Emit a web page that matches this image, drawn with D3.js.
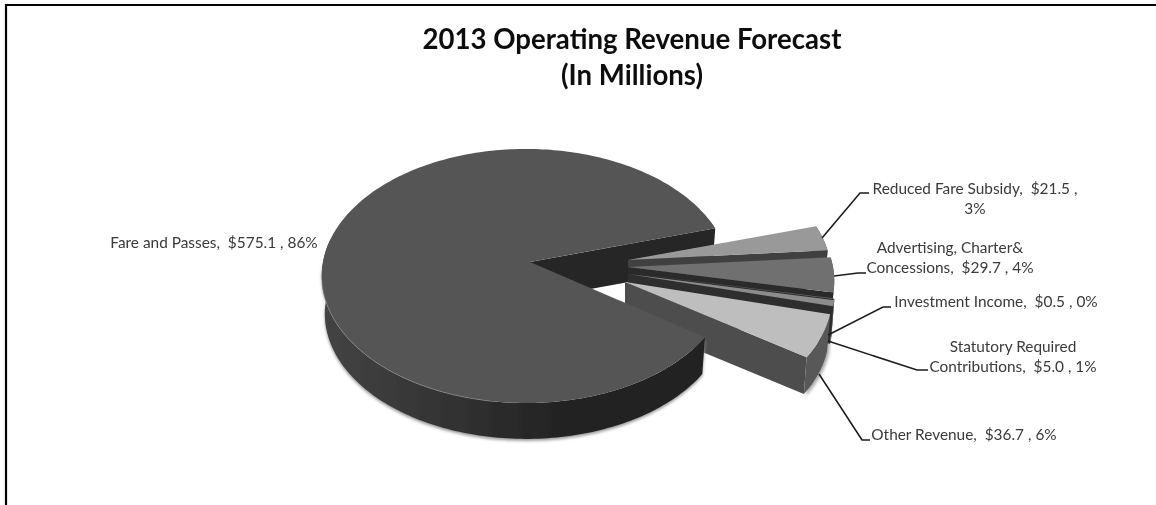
<!DOCTYPE html>
<html>
<head>
<meta charset="utf-8">
<script src="https://cdn.jsdelivr.net/npm/d3@7/dist/d3.min.js"></script>
<style>
  html, body { margin: 0; padding: 0; background: #fff; }
  text { font-family: Lato, "Open Sans", sans-serif; }
</style>
</head>
<body>
<div id="chart"></div>
<script>
// values, in millions
var categories = ["Fare and Passes", "Reduced Fare Subsidy", "Advertising, Charter& Concessions", "Investment Income", "Statutory Required Contributions", "Other Revenue"];
var revenue = [575.1, 21.5, 29.7, 0.5, 5.0, 36.7];
var titleLines = ["2013 Operating Revenue Forecast", "(In Millions)"];
var labelLines = [
  ["Fare and Passes,  $575.1 , 86%"],
  ["Reduced Fare Subsidy,  $21.5 ,", "3%"],
  ["Advertising, Charter&", "Concessions,  $29.7 , 4%"],
  ["Investment Income,  $0.5 , 0%"],
  ["Statutory Required", "Contributions,  $5.0 , 1%"],
  ["Other Revenue,  $36.7 , 6%"]
];

var width = 1156, height = 505;

// look of each slice: top face, lower cut wall, outer wall
var topColors = ["#555555", "#999999", "#707070", "#6a6a6a", "#8c8c8c", "#bebebe"];
var cutColors = ["#252525", "#414141", "#2b2b2b", "#2b2b2b", "#2f2f2f", "#4e4e4e"];
var rimColors = ["#333333", "#5c5c5c", "#555555", "#555555", "#5a5a5a", "#595959"];

// apex of each slice on the page (Excel explodes them by hand)
var apexX = [530, 628, 628, 628, 628, 625];
var apexY = [262, 260, 267, 273, 274, 282];
// the rim centre is not quite under the apex in the original
var rimShift = [-4, -4, -1, 0, 0, 0];
var rimWidth = [203, 206, 206, 206, 206, 206];

// label anchors: x of centre, y of first baseline
var labelX = [214, 975, 950, 996, 1013, 964];
var labelY = [248, 194, 253, 307, 352, 440];
var leaders = [
  null,
  [[822, 238], [860, 193], [869, 193]],
  [[834, 276], [858, 273], [866, 273]],
  [[828, 335], [883, 307], [891, 307]],
  [[828, 341], [917, 370], [928, 370]],
  [[819, 374], [862, 440], [870, 440]]
];

var rimY = 125.5, tilt = 0.11, depth = 38, shrink = 0.985;

var svg = d3.select("#chart").append("svg").attr("width", width).attr("height", height)
  .style("display", "block");

var defs = svg.append("defs");
defs.append("filter").attr("id", "soft").append("feGaussianBlur").attr("stdDeviation", 0.45);
defs.append("filter").attr("id", "shadow").attr("x", "-10%").attr("y", "-10%").attr("width", "120%").attr("height", "120%")
  .append("feGaussianBlur").attr("stdDeviation", 1.8);
var grad = defs.append("linearGradient").attr("id", "mainRim")
  .attr("gradientUnits", "userSpaceOnUse").attr("x1", 323).attr("x2", 703).attr("y1", 0).attr("y2", 0);
grad.append("stop").attr("offset", "0").attr("stop-color", "#444444");
grad.append("stop").attr("offset", "0.45").attr("stop-color", "#2c2c2c");
grad.append("stop").attr("offset", "0.65").attr("stop-color", "#222222");
grad.append("stop").attr("offset", "1").attr("stop-color", "#222222");

// frame, only top and left show in the original
svg.append("path").attr("d", "M6,505V5H1156").attr("fill", "none").attr("stroke", "#000").attr("stroke-width", 2.2);

// start angle chosen so the big slice opens to the right like the original
var pie = d3.pie().sort(null).startAngle(124.2 * Math.PI / 180).endAngle((124.2 + 360) * Math.PI / 180);
var arcs = pie(revenue);
// small slices wrap past 360, bring them back to 73..124 degrees
arcs.forEach(function (a, i) {
  a.index = i;
  if (i > 0) { a.startAngle -= 2 * Math.PI; a.endAngle -= 2 * Math.PI; }
});

function project(i, a) {
  var u = Math.sin(a), v = -Math.cos(a), s = 1 / (1 - tilt * v);
  return [rimWidth[i] * u * s, rimY * v * s];
}
function topPoint(i, a) {
  var p = project(i, a);
  return [apexX[i] + rimShift[i] + p[0], apexY[i] + p[1]];
}
function lowPoint(i, a) {
  var p = project(i, a);
  return [apexX[i] + rimShift[i] + p[0] * shrink, apexY[i] + depth + p[1] * shrink];
}
function sweep(a0, a1) {
  var n = Math.max(2, Math.ceil(Math.abs(a1 - a0) / 0.02));
  return d3.range(n + 1).map(function (k) { return a0 + (a1 - a0) * k / n; });
}

var line = d3.line().curve(d3.curveLinear);
var g = svg.append("g").attr("filter", "url(#soft)");

function topFace(i, d) {
  var pts = [[apexX[i], apexY[i]]].concat(sweep(d.startAngle, d.endAngle).map(function (a) { return topPoint(i, a); }));
  return line(pts) + "Z";
}
function rimWall(i, a0, a1) {
  var up = sweep(a0, a1).map(function (a) { return topPoint(i, a); });
  var low = sweep(a0, a1).reverse().map(function (a) { return lowPoint(i, a); });
  return line(up.concat(low)) + "Z";
}
function cutWall(i, a) {
  var pts = [[apexX[i], apexY[i]], topPoint(i, a), lowPoint(i, a), [apexX[i], apexY[i] + depth]];
  return line(pts) + "Z";
}

var big = arcs[0];
var last = arcs[arcs.length - 1];

// back wall of the big slice goes first, the small slices sit on it
g.append("path").attr("d", cutWall(0, big.endAngle)).attr("fill", cutColors[0]);

// shadow of the last slice
g.append("path")
  .attr("d", rimWall(last.index, last.startAngle, last.endAngle))
  .attr("fill", "#aaa").attr("transform", "translate(2,2)").attr("filter", "url(#shadow)");

// small slices, back to front
arcs.slice(1).forEach(function (d) {
  var i = d.index;
  g.append("path").attr("d", rimWall(i, d.startAngle, d.endAngle)).attr("fill", rimColors[i]);
  g.append("path").attr("d", cutWall(i, d.endAngle)).attr("fill", cutColors[i]);
  g.append("path").attr("d", topFace(i, d)).attr("fill", topColors[i]);
});

// soft shadow under the front of the pie
g.append("path")
  .attr("d", rimWall(0, big.startAngle, 1.5 * Math.PI))
  .attr("fill", "#999").attr("transform", "translate(0,2)").attr("filter", "url(#shadow)");

// big slice front
g.append("path").attr("d", rimWall(0, big.startAngle, 1.56 * Math.PI)).attr("fill", "url(#mainRim)");
g.append("path").attr("d", topFace(0, big)).attr("fill", topColors[0]);
g.append("path")
  .attr("d", line(sweep(1.05 * Math.PI, 1.45 * Math.PI).map(function (a) { return topPoint(0, a); })))
  .attr("fill", "none").attr("stroke", "#8a8a8a").attr("stroke-width", 0.7);

// leader lines
leaders.forEach(function (pts) {
  if (!pts) return;
  g.append("path").attr("d", line(pts)).attr("fill", "none").attr("stroke", "#1e1e1e").attr("stroke-width", 1.6);
});

// data labels
labelLines.forEach(function (lines, i) {
  lines.forEach(function (t, j) {
    g.append("text")
      .attr("x", labelX[i])
      .attr("y", labelY[i] + j * 20)
      .attr("text-anchor", "middle")
      .attr("font-size", 15.4)
      .attr("fill", "#3a3a3a")
      .style("white-space", "pre")
      .text(t);
  });
});

// title
titleLines.forEach(function (t, j) {
  g.append("text")
    .attr("x", 632)
    .attr("y", 49 + j * 36)
    .attr("text-anchor", "middle")
    .attr("font-size", 27.6)
    .attr("font-weight", 700)
    .attr("fill", "#111")
    .text(t);
});
</script>
</body>
</html>
